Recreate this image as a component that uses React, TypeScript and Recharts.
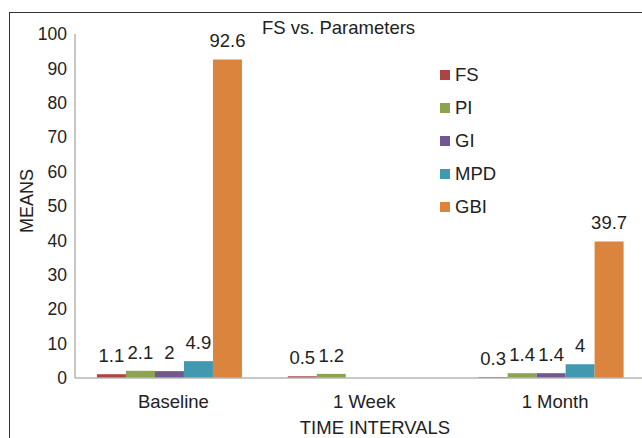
import React from 'react';
import { BarChart, Bar, XAxis, YAxis, LabelList, Legend } from 'recharts';

const categories = ['Baseline', '1 Week', '1 Month'];
const fsValues = [1.1, 0.5, 0.3];
const piValues = [2.1, 1.2, 1.4];
const giValues: (number | null)[] = [2, null, 1.4];
const mpdValues: (number | null)[] = [4.9, null, 4];
const gbiValues: (number | null)[] = [92.6, null, 39.7];
const yTicks = [0, 10, 20, 30, 40, 50, 60, 70, 80, 90, 100];
const seriesNames = ['FS', 'PI', 'GI', 'MPD', 'GBI'];
const seriesColors = ['#ab4541', '#8aa54e', '#71588f', '#4198af', '#db843d'];

const seriesValues = [fsValues, piValues, giValues, mpdValues, gbiValues];
const data = categories.map((c, i) => {
  const row: Record<string, string | number | null> = { name: c };
  seriesNames.forEach((s, j) => {
    row[s] = seriesValues[j][i];
  });
  return row;
});

const FONT = '"Liberation Sans", Arial, sans-serif';
const TEXT = '#222';

const LegendContent = () => (
  <div style={{ fontFamily: FONT, fontSize: 18.5, color: TEXT }}>
    {seriesNames.map((s, i) => (
      <div key={s} style={{ height: 33, display: 'flex', alignItems: 'center' }}>
        <span style={{ width: 10, height: 10, background: seriesColors[i], display: 'inline-block', marginRight: 5 }} />
        <span>{s}</span>
      </div>
    ))}
  </div>
);

const XTick = (props: any) => {
  const { x, y, payload } = props;
  return (
    <text x={x + 3} y={y} dy="0.71em" textAnchor="middle" fill={TEXT} fontSize={18.5} fontFamily={FONT}>
      {payload.value}
    </text>
  );
};

export default function App() {
  return (
    <div style={{ position: 'fixed', left: 0, top: 0, width: 642, height: 438, overflow: 'hidden', background: '#fff' }}>
      <div style={{ position: 'absolute', left: 9, top: 12, width: 700, height: 500, borderTop: '1px solid #333', borderLeft: '1px solid #333' }} />
      <div style={{ position: 'absolute', left: 338.5, top: 18.8, transform: 'translateX(-50%)', whiteSpace: 'nowrap', fontFamily: FONT, fontSize: 18.5, lineHeight: 1, color: TEXT }}>
        FS vs. Parameters
      </div>
      <div style={{ position: 'absolute', left: 0, top: 0 }}>
        <BarChart
          width={660}
          height={438}
          data={data}
          margin={{ top: 34, right: 12.5, bottom: 0, left: 0 }}
          barCategoryGap="11.5%"
          barGap={0}
        >
          <XAxis
            dataKey="name"
            height={60}
            tickLine={false}
            axisLine={{ stroke: '#b4b4b4', strokeWidth: 1.5 }}
            tickMargin={11}
            tick={<XTick />}
            label={{
              content: (p: any) => {
                const vb = p.viewBox;
                return (
                  <text x={375} y={vb.y + 49} dy="0.36em" textAnchor="middle" fill={TEXT} fontSize={18.5} fontFamily={FONT}>
                    TIME INTERVALS
                  </text>
                );
              },
            }}
          />
          <YAxis
            width={75}
            domain={[0, 100]}
            ticks={yTicks}
            interval={0}
            tickLine={false}
            axisLine={{ stroke: '#b4b4b4', strokeWidth: 1.5 }}
            tick={{ fill: TEXT, fontSize: 17.5, fontFamily: FONT }}
            label={{
              content: (p: any) => {
                const vb = p.viewBox;
                const cx = 27;
                const cy = vb.y + vb.height / 2 - 5;
                return (
                  <text x={cx} y={cy} dy="0.36em" textAnchor="middle" transform={`rotate(-90 ${cx} ${cy})`} fill={TEXT} fontSize={18} fontFamily={FONT}>
                    MEANS
                  </text>
                );
              },
            }}
          />
          <Legend
            layout="vertical"
            align="center"
            verticalAlign="middle"
            content={<LegendContent />}
            wrapperStyle={{ left: 440, top: 58.5, width: 'auto', height: 'auto' }}
          />
          {seriesNames.map((s, i) => (
            <Bar key={s} dataKey={s} fill={seriesColors[i]} isAnimationActive={false}>
              <LabelList dataKey={s} position="top" offset={12} fill={TEXT} fontSize={18.5} fontFamily={FONT} />
            </Bar>
          ))}
        </BarChart>
      </div>
    </div>
  );
}
